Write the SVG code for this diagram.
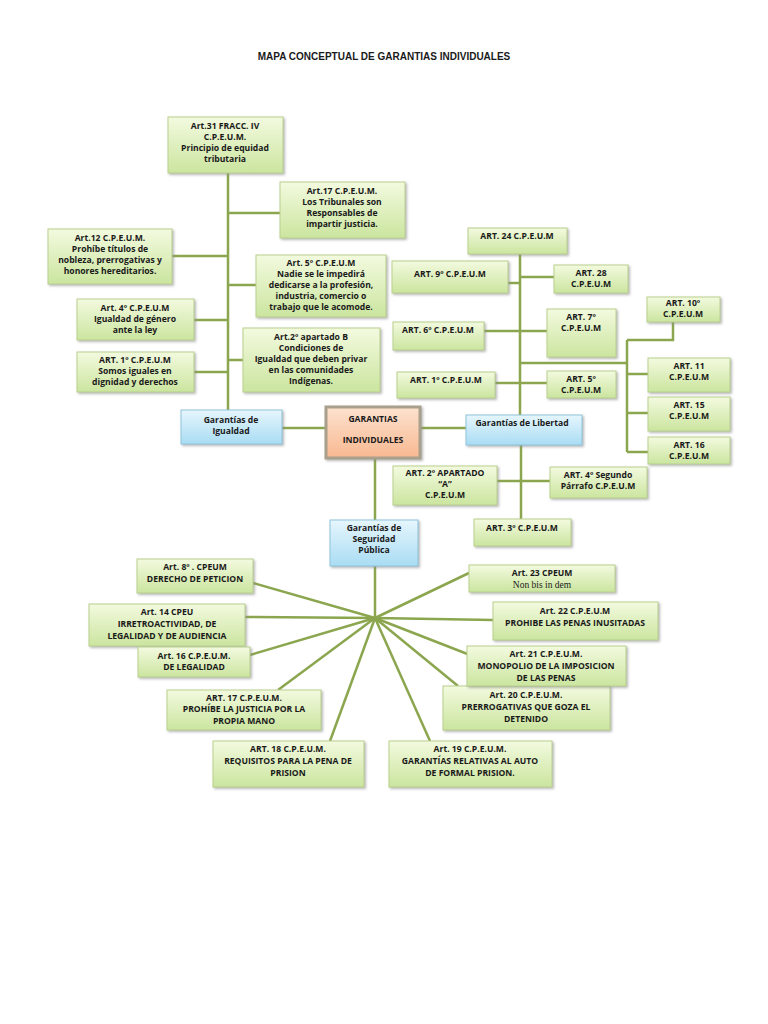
<svg xmlns="http://www.w3.org/2000/svg" width="768" height="1024" viewBox="0 0 768 1024">
<defs>
<linearGradient id="g" x1="0" y1="0" x2="0" y2="1"><stop offset="0" stop-color="#f3fadf"/><stop offset="1" stop-color="#cbe59f"/></linearGradient>
<linearGradient id="b" x1="0" y1="0" x2="0" y2="1"><stop offset="0" stop-color="#e6f6fd"/><stop offset="1" stop-color="#a9dcf3"/></linearGradient>
<linearGradient id="o" x1="0" y1="0" x2="0" y2="1"><stop offset="0" stop-color="#fde2cf"/><stop offset="1" stop-color="#f8b890"/></linearGradient>
<filter id="s" x="-10%" y="-10%" width="130%" height="140%"><feDropShadow dx="1.5" dy="1.5" stdDeviation="1" flood-color="#888" flood-opacity="0.6"/></filter>
</defs>
<style>
.n{fill:url(#g);stroke:#b9cf8e;stroke-width:1;filter:url(#s)}
.bl{fill:url(#b);stroke:#8fc3dc;stroke-width:1;filter:url(#s)}
.or{fill:url(#o);stroke:#a8a08c;stroke-width:3;filter:url(#s)}
text{font-family:"Open Sans","Liberation Sans",sans-serif;font-weight:bold;font-size:8.6px;fill:#1a1a1a;text-anchor:middle}
.t{font-size:10px}
.c line,.c polyline{stroke:#8ba64e;stroke-width:2.5;fill:none}
</style>
<text class="t" x="384" y="60" style="font-family:'Liberation Sans',sans-serif">MAPA CONCEPTUAL DE GARANTIAS INDIVIDUALES</text>
<g class="c">
<line x1="228" y1="173" x2="228" y2="410"/>
<line x1="228" y1="213" x2="280" y2="213"/>
<line x1="172" y1="256" x2="228" y2="256"/>
<line x1="228" y1="285" x2="256" y2="285"/>
<line x1="194" y1="320" x2="228" y2="320"/>
<line x1="228" y1="360" x2="243" y2="360"/>
<line x1="194" y1="372" x2="228" y2="372"/>
<line x1="282" y1="428" x2="326" y2="428"/>
<line x1="420" y1="428" x2="466" y2="428"/>
<line x1="520" y1="254" x2="520" y2="415"/>
<line x1="508" y1="283" x2="520" y2="283"/>
<line x1="520" y1="277" x2="554" y2="277"/>
<line x1="484" y1="331" x2="547" y2="331"/>
<line x1="495" y1="383" x2="547" y2="383"/>
<line x1="520" y1="363" x2="627" y2="363"/>
<line x1="627" y1="340" x2="627" y2="452"/>
<polyline points="627,340 673,340 673,322"/>
<line x1="627" y1="374" x2="648" y2="374"/>
<line x1="627" y1="413" x2="648" y2="413"/>
<line x1="627" y1="452" x2="648" y2="452"/>
<line x1="521" y1="445" x2="521" y2="519"/>
<line x1="497" y1="481" x2="550" y2="481"/>
<line x1="375" y1="458" x2="375" y2="520"/>
<line x1="375" y1="566" x2="375" y2="618"/>
<line x1="375" y1="618" x2="253" y2="583"/>
<line x1="375" y1="618" x2="245" y2="617"/>
<line x1="375" y1="618" x2="250" y2="655"/>
<line x1="375" y1="618" x2="278" y2="690"/>
<line x1="375" y1="618" x2="330" y2="741"/>
<line x1="375" y1="618" x2="430" y2="741"/>
<line x1="375" y1="618" x2="458" y2="686"/>
<line x1="375" y1="618" x2="470" y2="655"/>
<line x1="375" y1="618" x2="493" y2="620"/>
<line x1="375" y1="618" x2="469" y2="573"/>
</g>
<g id="art31"><rect class="n" x="168" y="117" width="115" height="56"/><text x="225" y="129">Art.31 FRACC. IV</text><text x="225" y="140">C.P.E.U.M.</text><text x="225" y="151">Principio de equidad</text><text x="225" y="162">tributaria</text></g>
<g id="art17a"><rect class="n" x="280" y="182" width="125" height="56"/><text x="342" y="194">Art.17  C.P.E.U.M.</text><text x="342" y="205">Los Tribunales son</text><text x="342" y="216">Responsables de</text><text x="342" y="227">impartir justicia.</text></g>
<g id="art12"><rect class="n" x="48" y="229" width="124" height="55"/><text x="110" y="241">Art.12 C.P.E.U.M.</text><text x="110" y="252">Prohíbe títulos de</text><text x="110" y="263">nobleza, prerrogativas y</text><text x="110" y="274">honores hereditarios.</text></g>
<g id="art5a"><rect class="n" x="256" y="255" width="130" height="62"/><text x="321" y="266">Art. 5º C.P.E.U.M</text><text x="321" y="277">Nadie se le impedirá</text><text x="321" y="288">dedicarse a la profesión,</text><text x="321" y="299">industria, comercio o</text><text x="321" y="310">trabajo que le acomode.</text></g>
<g id="art4a"><rect class="n" x="77" y="299" width="117" height="41"/><text x="135" y="311">Art. 4º C.P.E.U.M</text><text x="135" y="322">Igualdad de género</text><text x="135" y="333">ante la ley</text></g>
<g id="art2b"><rect class="n" x="243" y="328" width="137" height="64"/><text x="311" y="340">Art.2º apartado B</text><text x="311" y="351">Condiciones de</text><text x="311" y="362">Igualdad que deben privar</text><text x="311" y="373">en las comunidades</text><text x="311" y="384">Indígenas.</text></g>
<g id="art1a"><rect class="n" x="77" y="352" width="117" height="40"/><text x="135" y="363">ART. 1º C.P.E.U.M</text><text x="135" y="374">Somos iguales en</text><text x="135" y="385">dignidad y derechos</text></g>
<g id="igualdad"><rect class="bl" x="181" y="410" width="101" height="34"/><text x="231" y="423">Garantías de</text><text x="231" y="434">Igualdad</text></g>
<g id="centro"><rect class="or" x="326" y="407" width="94" height="51"/><text x="373" y="422">GARANTIAS</text><text x="373" y="443">INDIVIDUALES</text></g>
<g id="libertad"><rect class="bl" x="466" y="415" width="116" height="30"/><text x="522" y="426">Garantías de Libertad</text></g>
<g id="art24"><rect class="n" x="468" y="228" width="99" height="26"/><text x="517" y="239">ART. 24 C.P.E.U.M</text></g>
<g id="art9"><rect class="n" x="392" y="261" width="116" height="32"/><text x="450" y="277">ART. 9º C.P.E.U.M</text></g>
<g id="art28"><rect class="n" x="554" y="265" width="74" height="28"/><text x="591" y="276">ART. 28</text><text x="591" y="287">C.P.E.U.M</text></g>
<g id="art6"><rect class="n" x="393" y="322" width="91" height="28"/><text x="438" y="333">ART. 6º C.P.E.U.M</text></g>
<g id="art7"><rect class="n" x="547" y="309" width="69" height="48"/><text x="581" y="320">ART. 7º</text><text x="581" y="331">C.P.E.U.M</text></g>
<g id="art1b"><rect class="n" x="397" y="372" width="98" height="26"/><text x="446" y="383">ART. 1º C.P.E.U.M</text></g>
<g id="art5b"><rect class="n" x="547" y="371" width="69" height="27"/><text x="581" y="382">ART. 5º</text><text x="581" y="393">C.P.E.U.M</text></g>
<g id="art10"><rect class="n" x="647" y="297" width="73" height="25"/><text x="683" y="306">ART. 10º</text><text x="683" y="317">C.P.E.U.M</text></g>
<g id="art11"><rect class="n" x="648" y="358" width="82" height="34"/><text x="689" y="369">ART. 11</text><text x="689" y="380">C.P.E.U.M</text></g>
<g id="art15"><rect class="n" x="648" y="397" width="82" height="34"/><text x="689" y="408">ART. 15</text><text x="689" y="419">C.P.E.U.M</text></g>
<g id="art16a"><rect class="n" x="648" y="437" width="82" height="27"/><text x="689" y="448">ART. 16</text><text x="689" y="459">C.P.E.U.M</text></g>
<g id="art2a"><rect class="n" x="393" y="466" width="104" height="39"/><text x="445" y="476">ART. 2º APARTADO</text><text x="445" y="487">“A”</text><text x="445" y="498">C.P.E.U.M</text></g>
<g id="art4b"><rect class="n" x="550" y="467" width="97" height="31"/><text x="598" y="478">ART. 4º Segundo</text><text x="598" y="489">Párrafo C.P.E.U.M</text></g>
<g id="art3"><rect class="n" x="474" y="519" width="97" height="27"/><text x="522" y="531">ART. 3º C.P.E.U.M</text></g>
<g id="seguridad"><rect class="bl" x="330" y="520" width="88" height="46"/><text x="374" y="531">Garantías de</text><text x="374" y="542">Seguridad</text><text x="374" y="553">Pública</text></g>
<g id="art8"><rect class="n" x="137" y="559" width="116" height="34"/><text x="195" y="570">Art. 8º . CPEUM</text><text x="195" y="582">DERECHO DE PETICION</text></g>
<g id="art14"><rect class="n" x="89" y="604" width="156" height="42"/><text x="167" y="615">Art.  14 CPEU</text><text x="167" y="627">IRRETROACTIVIDAD, DE</text><text x="167" y="639">LEGALIDAD  Y DE AUDIENCIA</text></g>
<g id="art16b"><rect class="n" x="138" y="647" width="112" height="30"/><text x="194" y="659">Art.  16 C.P.E.U.M.</text><text x="194" y="670">DE LEGALIDAD</text></g>
<g id="art17b"><rect class="n" x="167" y="690" width="154" height="40"/><text x="244" y="701">ART. 17 C.P.E.U.M.</text><text x="244" y="712">PROHÍBE LA JUSTICIA POR LA</text><text x="244" y="724">PROPIA MANO</text></g>
<g id="art18"><rect class="n" x="213" y="741" width="151" height="46"/><text x="288" y="752">ART. 18 C.P.E.U.M.</text><text x="288" y="764">REQUISITOS PARA LA PENA DE</text><text x="288" y="776">PRISION</text></g>
<g id="art19"><rect class="n" x="389" y="741" width="163" height="46"/><text x="470" y="752">Art. 19 C.P.E.U.M.</text><text x="470" y="764">GARANTÍAS RELATIVAS AL AUTO</text><text x="470" y="776">DE FORMAL PRISION.</text></g>
<g id="art20"><rect class="n" x="443" y="686" width="167" height="44"/><text x="526" y="698">Art. 20 C.P.E.U.M.</text><text x="526" y="710">PRERROGATIVAS QUE GOZA EL</text><text x="526" y="722">DETENIDO</text></g>
<g id="art21"><rect class="n" x="467" y="646" width="159" height="40"/><text x="546" y="657">Art. 21 C.P.E.U.M.</text><text x="546" y="669">MONOPOLIO DE LA IMPOSICION</text><text x="546" y="681">DE LAS PENAS</text></g>
<g id="art22"><rect class="n" x="493" y="602" width="165" height="38"/><text x="575" y="614">Art. 22 C.P.E.U.M</text><text x="575" y="626">PROHIBE LAS PENAS INUSITADAS</text></g>
<g id="art23"><rect class="n" x="469" y="565" width="146" height="27"/><text x="542" y="576">Art. 23 CPEUM</text><text x="542" y="588" style="font-family:'Liberation Serif',serif;font-weight:normal;font-size:9.5px">Non bis in dem</text></g>
</svg>
